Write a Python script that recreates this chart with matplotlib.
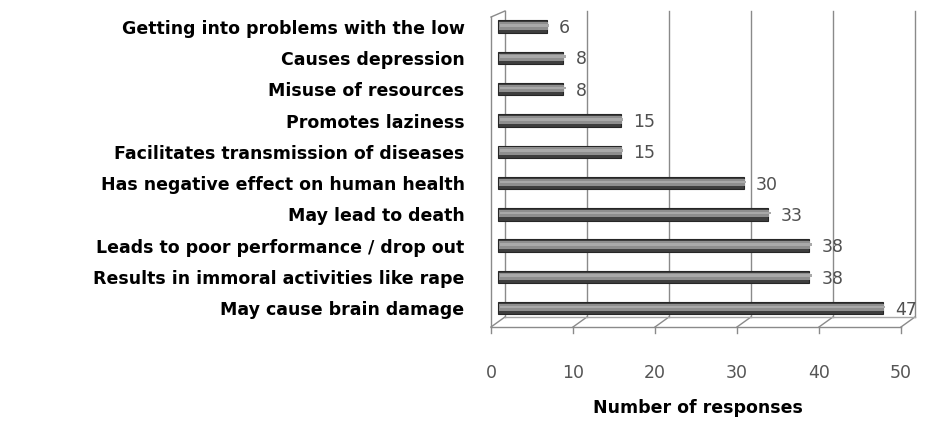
"""Horizontal bar chart of reported effects, drawn in a pseudo-3D scanned style."""

import matplotlib
matplotlib.use("Agg")
import matplotlib.pyplot as plt
import numpy as np

# Data: bottom to top as drawn
categories = [
    "May cause brain damage",
    "Results in immoral activities like rape",
    "Leads to poor performance / drop out",
    "May lead to death",
    "Has negative effect on human health",
    "Facilitates transmission of diseases",
    "Promotes laziness",
    "Misuse of resources",
    "Causes depression",
    "Getting into problems with the low",
]
responses = [47, 38, 38, 33, 30, 15, 15, 8, 8, 6]
x_ticks = [0, 10, 20, 30, 40, 50]

# 3D-look offsets in data units
DEPTH_X = 1.7
DEPTH_Y = 0.32
BAR_SHIFT = 0.8
GRID_COLOR = "#8a8a8a"

plt.rcParams["font.family"] = ["DejaVu Sans"]

fig = plt.figure(figsize=(9.26, 4.21), dpi=100)
ax = fig.add_axes([491 / 926, 1 - 327 / 421, (901 - 491) / 926, (327 - 11) / 421])

y = np.arange(len(categories))
y_bottom, y_top = -0.6, len(categories) - 0.5
ax.set_xlim(0, 50)
ax.set_ylim(y_bottom, y_top)

# back wall gridlines and floor diagonals
for t in x_ticks:
    ax.plot([t + DEPTH_X, t + DEPTH_X], [y_bottom + DEPTH_Y, y_top],
            color=GRID_COLOR, lw=1.0, clip_on=False, zorder=1)
    ax.plot([t, t + DEPTH_X], [y_bottom, y_bottom + DEPTH_Y],
            color=GRID_COLOR, lw=1.0, clip_on=False, zorder=1)
    ax.plot([t, t], [y_bottom, y_bottom - 0.18],
            color=GRID_COLOR, lw=1.0, clip_on=False, zorder=1)

# floor lines and left wall
ax.plot([0, 50], [y_bottom, y_bottom], color=GRID_COLOR, lw=1.0, clip_on=False)
ax.plot([DEPTH_X, 50 + DEPTH_X], [y_bottom + DEPTH_Y, y_bottom + DEPTH_Y],
        color="#a8a8a8", lw=1.0, clip_on=False)
ax.plot([0, 0], [y_bottom, y_top - DEPTH_Y * 0.6], color=GRID_COLOR, lw=1.0, clip_on=False)
ax.plot([0, DEPTH_X], [y_top - DEPTH_Y * 0.6, y_top], color=GRID_COLOR, lw=1.0, clip_on=False)

# cylinder-like bars
ax.barh(y, responses, left=BAR_SHIFT, height=0.4, color="#3e3e3e",
        edgecolor="#262626", linewidth=0.8, zorder=3)
ax.barh(y + 0.02, responses, left=BAR_SHIFT + 0.15, height=0.24,
        color="#8e8e8e", linewidth=0, zorder=4)
ax.barh(y + 0.04, responses, left=BAR_SHIFT + 0.3, height=0.08,
        color="#a9a9a9", linewidth=0, zorder=5)

for yi, value in zip(y, responses):
    ax.text(value + BAR_SHIFT + 1.5, yi - 0.05, str(value), va="center", ha="left",
            fontsize=12.5, color="#505050", zorder=6)

ax.set_yticks(y)
ax.set_yticklabels(categories, fontsize=12.5, fontweight="bold", color="black")
ax.set_xticks(x_ticks)
ax.set_xticklabels([str(t) for t in x_ticks], fontsize=12.5, color="#555555")
ax.tick_params(axis="y", length=0, pad=19)
ax.tick_params(axis="x", length=0, pad=27)

for spine in ax.spines.values():
    spine.set_visible(False)
ax.patch.set_alpha(0)

fig.text(698 / 926, 1 - 408 / 421, "Number of responses", ha="center", va="center",
         fontsize=12.5, fontweight="bold", color="black")

fig.savefig("out.png", dpi=100)
